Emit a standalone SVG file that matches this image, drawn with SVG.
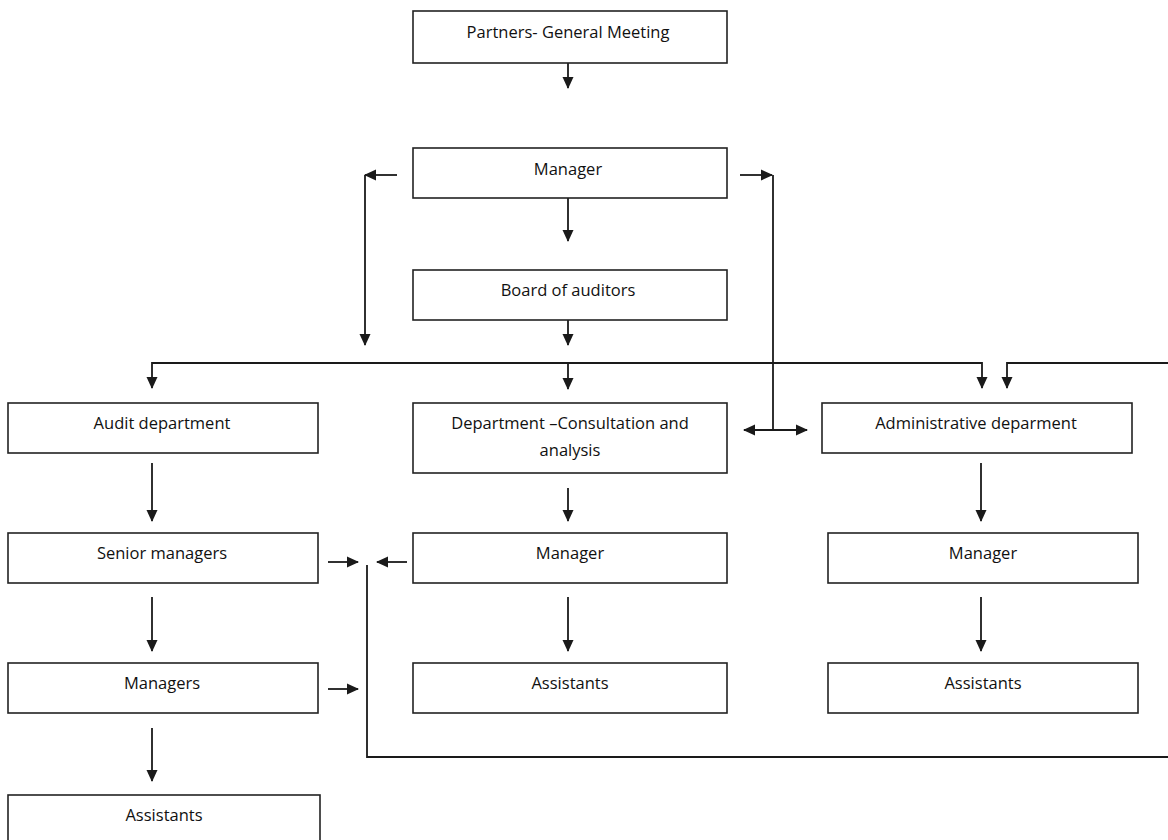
<svg xmlns="http://www.w3.org/2000/svg" width="1168" height="840" viewBox="0 0 1168 840">
<style>
.box{fill:#fff;stroke:#222;stroke-width:1.6}
.t{font-family:"Open Sans","Liberation Sans",sans-serif;font-size:16.5px;fill:#111;text-anchor:middle}
.c{fill:none;stroke:#1a1a1a;stroke-width:1.8}
</style>
<defs>
<marker id="ah" markerUnits="userSpaceOnUse" markerWidth="12" markerHeight="12" viewBox="0 0 12 12" refX="11" refY="6" orient="auto-start-reverse">
<path d="M0,0.5 L12,6 L0,11.5 Z" fill="#1a1a1a"/>
</marker>
</defs>
<rect width="1168" height="840" fill="#fff"/>
<g id="connectors">
<path class="c" d="M568,63 V88" marker-end="url(#ah)"/>
<path class="c" d="M397,175 H365" marker-end="url(#ah)"/>
<path class="c" d="M365,175 V345" marker-end="url(#ah)"/>
<path class="c" d="M740,175 H772" marker-end="url(#ah)"/>
<path class="c" d="M773,175 V430"/>
<path class="c" d="M744,430 H807" marker-start="url(#ah)" marker-end="url(#ah)"/>
<path class="c" d="M568,198 V241" marker-end="url(#ah)"/>
<path class="c" d="M568,320 V345" marker-end="url(#ah)"/>
<path class="c" d="M152,388 V363 H982 V388" marker-end="url(#ah)" marker-start="url(#ah)"/>
<path class="c" d="M568,363 V389" marker-end="url(#ah)"/>
<path class="c" d="M1168,363 H1007 V388" marker-end="url(#ah)"/>
<path class="c" d="M152,463 V521" marker-end="url(#ah)"/>
<path class="c" d="M568,488 V521" marker-end="url(#ah)"/>
<path class="c" d="M981,463 V521" marker-end="url(#ah)"/>
<path class="c" d="M152,597 V651" marker-end="url(#ah)"/>
<path class="c" d="M568,597 V651" marker-end="url(#ah)"/>
<path class="c" d="M981,597 V651" marker-end="url(#ah)"/>
<path class="c" d="M152,728 V781" marker-end="url(#ah)"/>
<path class="c" d="M328,562 H358" marker-end="url(#ah)"/>
<path class="c" d="M407,562 H377" marker-end="url(#ah)"/>
<path class="c" d="M328,689 H358" marker-end="url(#ah)"/>
<path class="c" d="M367,565 V757 H1168"/>
</g>
<g id="partners"><rect class="box" x="413" y="11" width="314" height="52"/><text class="t" x="568" y="38">Partners- General Meeting</text></g>
<g id="manager-top"><rect class="box" x="413" y="148" width="314" height="50"/><text class="t" x="568" y="175">Manager</text></g>
<g id="board"><rect class="box" x="413" y="270" width="314" height="50"/><text class="t" x="568" y="296">Board of auditors</text></g>
<g id="audit"><rect class="box" x="8" y="403" width="310" height="50"/><text class="t" x="162" y="429">Audit department</text></g>
<g id="consult"><rect class="box" x="413" y="403" width="314" height="70"/><text class="t" x="570" y="429">Department –Consultation and</text><text class="t" x="570" y="456">analysis</text></g>
<g id="admin"><rect class="box" x="822" y="403" width="310" height="50"/><text class="t" x="976" y="429">Administrative deparment</text></g>
<g id="senior"><rect class="box" x="8" y="533" width="310" height="50"/><text class="t" x="162" y="559">Senior managers</text></g>
<g id="manager-mid"><rect class="box" x="413" y="533" width="314" height="50"/><text class="t" x="570" y="559">Manager</text></g>
<g id="manager-right"><rect class="box" x="828" y="533" width="310" height="50"/><text class="t" x="983" y="559">Manager</text></g>
<g id="managers"><rect class="box" x="8" y="663" width="310" height="50"/><text class="t" x="162" y="689">Managers</text></g>
<g id="assist-mid"><rect class="box" x="413" y="663" width="314" height="50"/><text class="t" x="570" y="689">Assistants</text></g>
<g id="assist-right"><rect class="box" x="828" y="663" width="310" height="50"/><text class="t" x="983" y="689">Assistants</text></g>
<g id="assist-left"><rect class="box" x="8" y="795" width="312" height="60"/><text class="t" x="164" y="821">Assistants</text></g>
</svg>
